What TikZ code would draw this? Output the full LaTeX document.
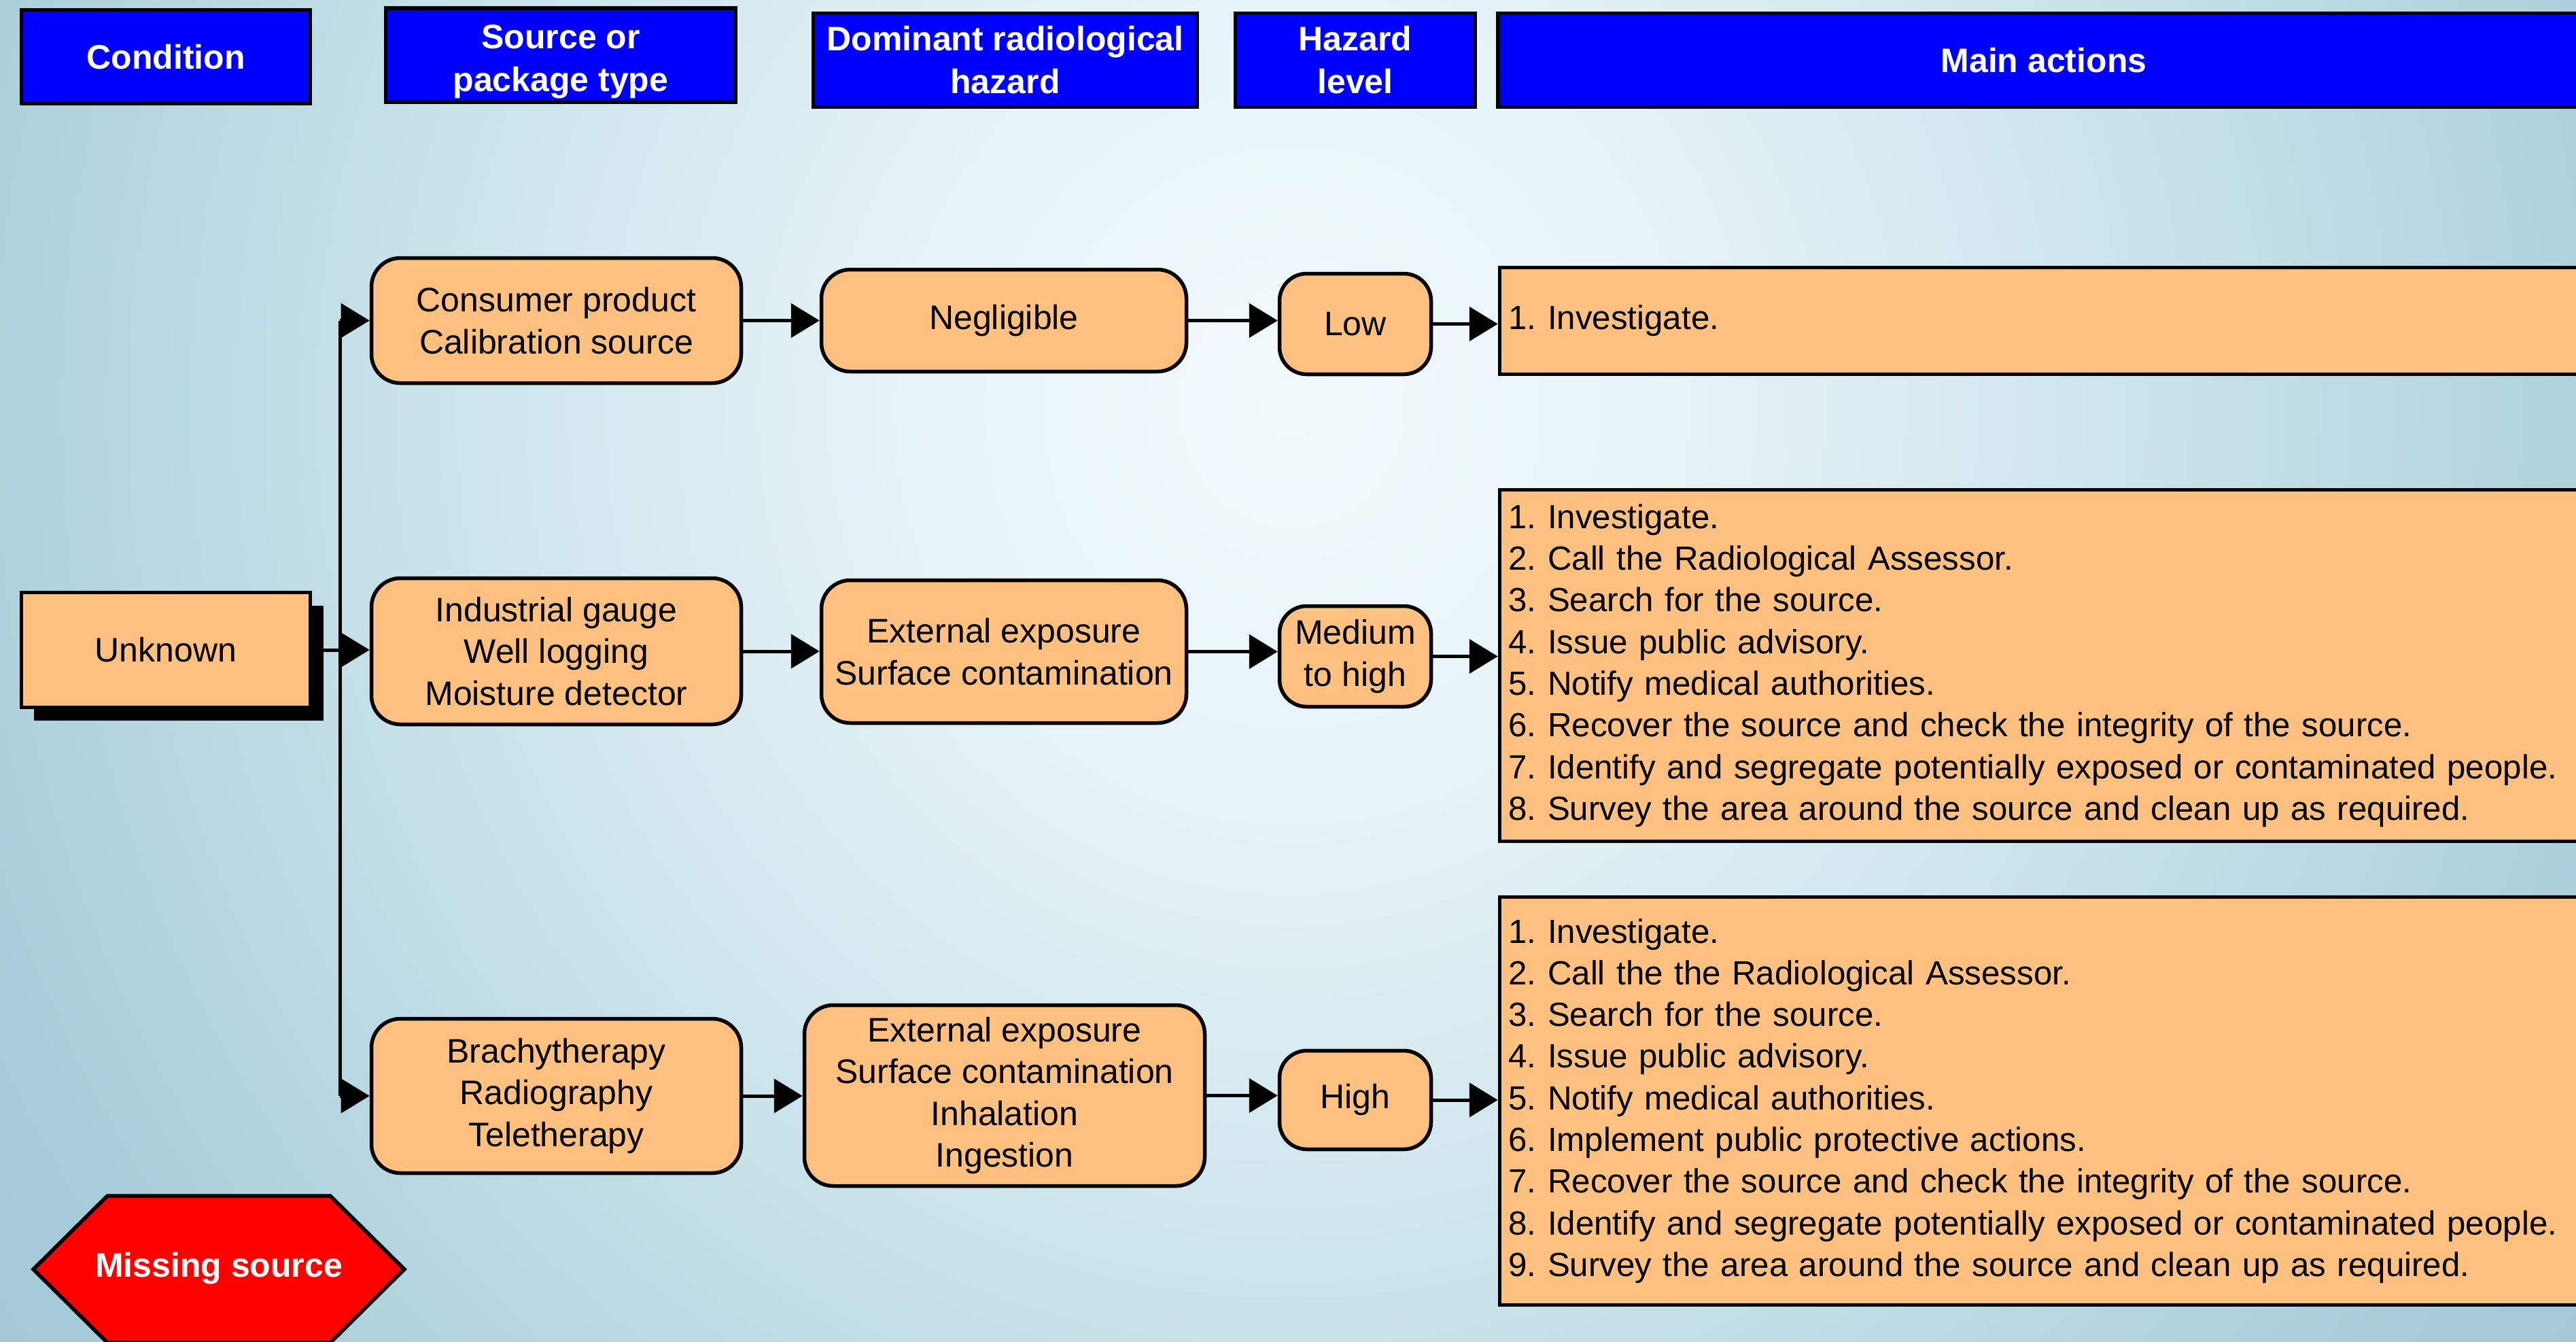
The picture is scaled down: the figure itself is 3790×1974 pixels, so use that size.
\documentclass[tikz,border=0pt]{standalone}
\usepackage{fontspec}
\setmainfont{Liberation Sans}
\usetikzlibrary{arrows.meta,shadows}
\frenchspacing

\definecolor{hdrblue}{HTML}{0000FF}
\definecolor{boxorange}{HTML}{FFC080}
\definecolor{alarmred}{HTML}{FF0000}
\definecolor{bgc0}{HTML}{F2FAFD}
\definecolor{bgc1}{HTML}{E6F3F7}
\definecolor{bgc2}{HTML}{CFE6ED}
\definecolor{bgc3}{HTML}{B6D7E1}
\definecolor{bgc4}{HTML}{A8CDDA}
\definecolor{bgc5}{HTML}{A3C9D7}

% soft off-centre glow behind the chart
\pgfdeclareradialshading{bgglow}{\pgfpoint{0bp}{0bp}}{%
  color(0bp)=(bgc0); color(6.25bp)=(bgc1); color(12.5bp)=(bgc2);
  color(18.75bp)=(bgc3); color(22.5bp)=(bgc4); color(25bp)=(bgc5); color(50bp)=(bgc5)}

\begin{document}
\begin{tikzpicture}[x=0.2pt,y=-0.2pt,
  every node/.style={font=\fontsize{10}{12.3}\selectfont},
  hdr/.style={draw=black, line width=1.1pt, fill=hdrblue, text=white,
    font=\bfseries\fontsize{10}{12.6}\selectfont, align=center, inner sep=0pt,
    minimum height=27.6pt},
  rbox/.style={draw=black, line width=1.1pt, fill=boxorange, rounded corners=8.5pt,
    align=center, inner sep=0pt, minimum width=108.8pt},
  lvlbox/.style={rbox, minimum width=44.6pt, minimum height=29.6pt, rounded corners=8pt},
  actbox/.style={draw=black, line width=1.1pt, fill=boxorange, align=left,
    inner xsep=2.6pt, inner ysep=0pt, text width=315pt,
    font=\fontsize{9.86}{12.26}\selectfont},
  condbox/.style={draw=black, line width=1.1pt, fill=boxorange, inner sep=0pt,
    minimum width=85pt, minimum height=33.8pt,
    drop shadow={shadow xshift=3.8pt, shadow yshift=-3.8pt, opacity=1, fill=black}},
  arr/.style={line width=1pt, -{Triangle[length=8.4pt,width=10pt]}},
  link/.style={line width=1pt},
]
\useasboundingbox (0,0) rectangle (3790,1974);
\clip (0,0) rectangle (3790,1974);

% background
\fill[bgc5] (0,0) rectangle (3790,1974);
\shade[shading=bgglow] (1900,600) ellipse [x radius=460pt, y radius=480pt];

% column headers
\node[hdr, minimum width=85pt]    (h1) at (244,83.5)  {Condition};
\node[hdr, minimum width=103pt]   (h2) at (825,81)    {\raisebox{-2pt}[\height][\depth]{\parbox{100pt}{\centering Source or\\package type}}};
\node[hdr, minimum width=113pt]   (h3) at (1479,88.5) {Dominant radiological\\hazard};
\node[hdr, minimum width=70.6pt]  (h4) at (1994,88.5) {Hazard\\level};
\node[hdr, minimum width=321.2pt] (h5) at (3007,88.5) {Main actions};

% condition
\node[condbox] (unk) at (244,956) {Unknown};

% row 1
\node[rbox, minimum height=36.8pt] (src1) at (818.5,471.5) {Consumer product\\Calibration source};
\node[rbox, minimum width=107.4pt, minimum height=30pt] (haz1) at (1477,471.5) {Negligible};
\node[lvlbox] (lvl1) at (1994,476.5) {Low};
\node[actbox, minimum height=31.4pt] (act1) at (3007,472) {1. Investigate.};

% row 2
\node[rbox, minimum height=43pt] (src2) at (818.5,958) {Industrial gauge\\Well logging\\Moisture detector};
\node[rbox, minimum width=107.4pt, minimum height=42pt] (haz2) at (1477,958.5) {External exposure\\Surface contamination};
\node[lvlbox] (lvl2) at (1994,965.5) {Medium\\to high};
\node[actbox, minimum height=103.4pt] (act2) at (3007,979) {1. Investigate.\\
2. Call the Radiological Assessor.\\
3. Search for the source.\\
4. Issue public advisory.\\
5. Notify medical authorities.\\
6. Recover the source and check the integrity of the source.\\
7. Identify and segregate potentially exposed or contaminated people.\\
8. Survey the area around the source and clean up as required.};

% row 3
\node[rbox, minimum height=45.4pt] (src3) at (818.5,1612) {Brachytherapy\\Radiography\\Teletherapy};
\node[rbox, minimum width=117.8pt, minimum height=53.2pt] (haz3) at (1478,1611.5) {External exposure\\Surface contamination\\Inhalation\\Ingestion};
\node[lvlbox, minimum height=29pt] (lvl3) at (1994,1618) {High};
\node[actbox, minimum height=120pt] (act3) at (3007,1619.5) {1. Investigate.\\
2. Call the the Radiological Assessor.\\
3. Search for the source.\\
4. Issue public advisory.\\
5. Notify medical authorities.\\
6. Implement public protective actions.\\
7. Recover the source and check the integrity of the source.\\
8. Identify and segregate potentially exposed or contaminated people.\\
9. Survey the area around the source and clean up as required.};

% branching from the condition
\coordinate (jx) at (500,0);
\draw[link] (jx |- src1.west) -- (jx |- src3.west);
\draw[arr] (jx |- src1.west) -- (src1.west);
\draw[arr] (unk.east) -- (src2.west |- unk.east);
\draw[arr] (jx |- src3.west) -- (src3.west);

% flow along each row
\draw[arr] (src1.east) -- (haz1.west |- src1.east);
\draw[arr] (haz1.east) -- (lvl1.west |- haz1.east);
\draw[arr] (lvl1.east) -- (act1.west |- lvl1.east);
\draw[arr] (src2.east) -- (haz2.west |- src2.east);
\draw[arr] (haz2.east) -- (lvl2.west |- haz2.east);
\draw[arr] (lvl2.east) -- (act2.west |- lvl2.east);
\draw[arr] (src3.east) -- (haz3.west |- src3.east);
\draw[arr] (haz3.east) -- (lvl3.west |- haz3.east);
\draw[arr] (lvl3.east) -- (act3.west |- lvl3.east);

% missing-source marker
\draw[line width=1.1pt, fill=alarmred, line join=miter]
  (49,1867) -- (158,1759) -- (486,1759) -- (595,1867) -- (486,1975) -- (158,1975) -- cycle;
\node[text=white, font=\bfseries\fontsize{10}{12}\selectfont] (miss) at (322,1866) {Missing source};
\end{tikzpicture}
\end{document}
